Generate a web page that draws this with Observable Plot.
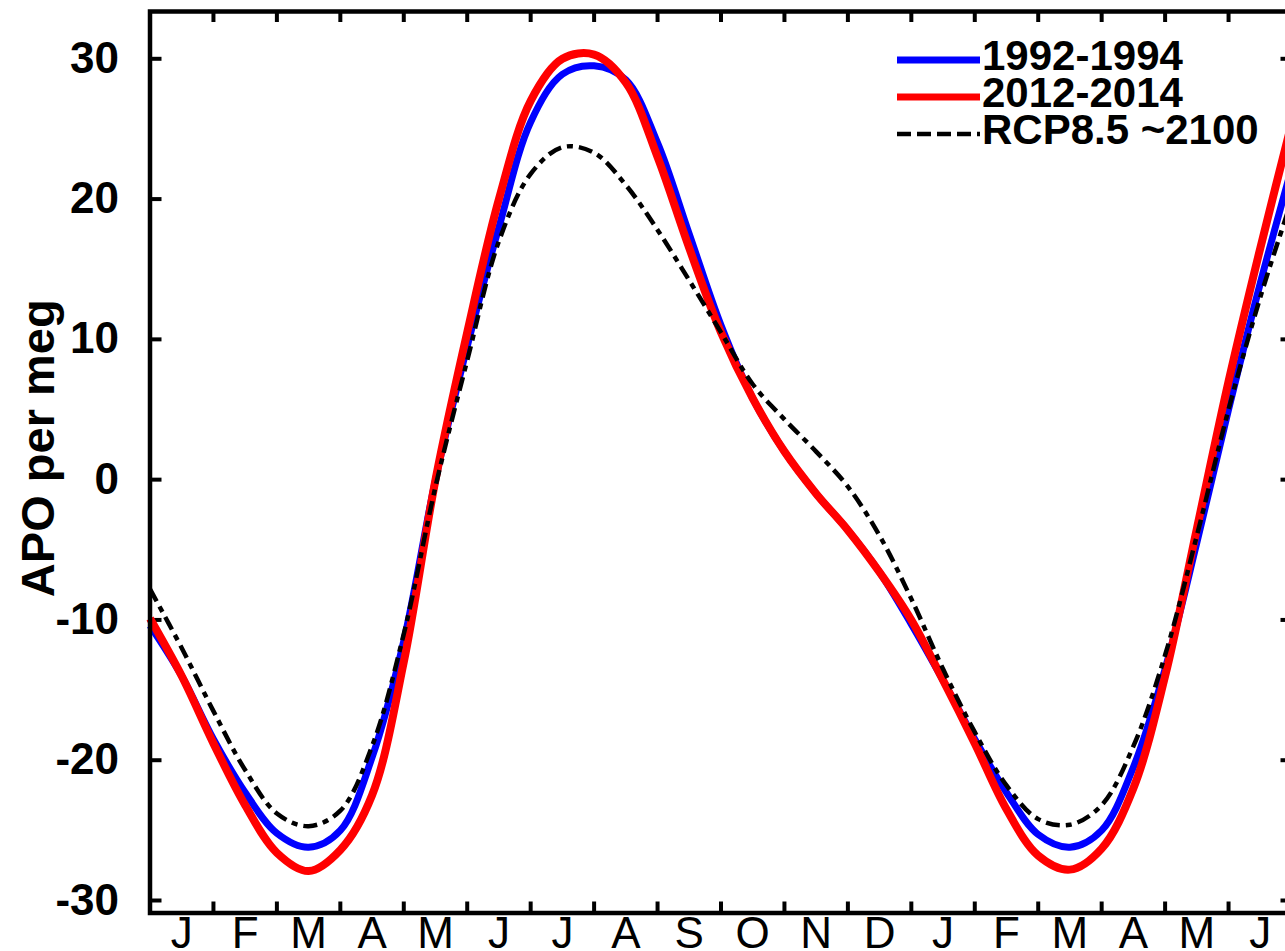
<!DOCTYPE html>
<html>
<head>
<meta charset="utf-8">
<script src="https://cdn.jsdelivr.net/npm/d3@7"></script>
<script src="https://cdn.jsdelivr.net/npm/@observablehq/plot@0.6"></script>
<style>
  html, body { margin: 0; padding: 0; background: #fff; overflow: hidden; }
  #wrap { position: relative; width: 1285px; height: 951px; }
  #legend { position: absolute; left: 0; top: 0; pointer-events: none; }
</style>
</head>
<body>
<div id="wrap"></div>
<script>
// Mean seasonal cycle of APO, Jan through the following June (months since Jan 1)
const months = [0, 0.5, 1, 1.5, 2, 2.5, 3, 3.5, 4, 4.5, 5, 5.5, 6, 6.5, 7, 7.5, 8, 8.5, 9,
  9.5, 10, 10.5, 11, 11.5, 12, 12.5, 13, 13.5, 14, 14.5, 15, 15.5, 16, 16.5, 17, 17.5, 18];

const apo1992 = [-10.4, -14.0, -18.5, -22.3, -25.2, -26.2, -25.0, -19.8, -11.5, 0.0, 9.5, 18.0,
  25.5, 28.9, 29.5, 28.5, 24.0, 17.5, 11.0, 5.8, 2.0, -1.0, -3.6, -6.6, -10.3, -14.3, -18.5,
  -22.3, -25.3, -26.2, -25.0, -20.5, -13.5, -4.5, 5.0, 14.0, 22.3];

const apo2012 = [-9.9, -14.0, -18.8, -23.2, -26.6, -27.9, -26.4, -22.5, -13.0, 0.0, 10.5, 20.0,
  27.0, 30.0, 30.3, 28.3, 23.0, 16.5, 10.5, 5.8, 2.0, -1.0, -3.6, -6.6, -10.0, -14.3, -18.8,
  -23.5, -26.8, -27.8, -26.3, -22.0, -14.0, -3.5, 7.0, 16.5, 25.5];

const apoRcp85 = [-7.8, -12.0, -16.5, -20.7, -23.8, -24.7, -23.6, -19.0, -11.0, -0.5, 8.5, 17.0,
  21.8, 23.7, 23.3, 21.0, 17.8, 14.2, 10.5, 6.8, 4.3, 2.0, -0.5, -4.0, -8.5, -13.5, -18.0,
  -21.8, -24.2, -24.6, -23.2, -19.0, -12.5, -4.0, 5.0, 13.0, 20.0];

const seriesNames = ["1992-1994", "2012-2014", "RCP8.5 ~2100"];
const seriesColors = ["#0000ff", "#ff0000", "#000000"];
const seriesWidths = [7, 8, 4.5];
const seriesDash = [null, null, "14,6,6,6"];

const monthLabels = ["J", "F", "M", "A", "M", "J", "J", "A", "S", "O", "N", "D", "J", "F", "M", "A", "M", "J"];
const yTicks = [-30, -20, -10, 0, 10, 20, 30];
const yTitle = "APO per meg";

const FONT = "'Liberation Sans', Arial, Helvetica, sans-serif";

const seriesValues = [apo1992, apo2012, apoRcp85];
const table = seriesValues.map((vals, s) => months.map((m, i) => ({month: m, value: vals[i], series: seriesNames[s]})));

// month boundaries carry the ticks, month centres carry the letters
const monthEdges = d3.range(1, monthLabels.length);
const monthMids = monthLabels.map((_, i) => i + 0.5);

const W = 1285, H = 951;
const chart = Plot.plot({
  width: W,
  height: H,
  marginLeft: 149.5,
  marginRight: -6.5,
  marginTop: 11,
  marginBottom: 38.5,
  style: {fontFamily: FONT, background: "#fff", color: "#000", overflow: "hidden"},
  x: {type: "linear", domain: [0, monthLabels.length], range: [149.5, 1291.5]},
  y: {type: "linear", domain: [-30, 30], range: [900, 58.3]},
  marks: [
    Plot.axisY(yTicks, {anchor: "left", tickSize: -12, tickPadding: 43, strokeWidth: 4,
      fontSize: 44, fontWeight: "bold", tickFormat: d => String(d), label: null}),
    Plot.axisY(yTicks, {anchor: "right", tickSize: -12, tickFormat: () => "", strokeWidth: 4, label: null}),
    Plot.axisX(monthEdges, {anchor: "bottom", tickSize: -11, tickFormat: () => "", strokeWidth: 4, label: null}),
    Plot.axisX(monthEdges, {anchor: "top", tickSize: -10, tickFormat: () => "", strokeWidth: 4, label: null}),
    Plot.axisX(monthMids, {anchor: "bottom", tickSize: 0, tickPadding: 4, fontSize: 44,
      tickFormat: d => monthLabels[Math.floor(d)], label: null}),
    ...table.map((rows, s) => Plot.line(rows, {
      x: "month", y: "value", curve: "catmull-rom",
      stroke: seriesColors[s], strokeWidth: seriesWidths[s],
      strokeDasharray: seriesDash[s], strokeLinecap: "butt"
    })),
    Plot.frame({stroke: "#000", strokeWidth: 4.5}),
    Plot.text([yTitle], {frameAnchor: "left", rotate: -90, dx: -96, dy: -14,
      lineAnchor: "bottom", textAnchor: "middle", fontSize: 47, fontWeight: "bold", fill: "#000"})
  ]
});

const wrap = document.getElementById("wrap");
wrap.appendChild(chart);

// In-plot legend, top right
const legend = d3.select(wrap).append("svg")
  .attr("id", "legend").attr("width", W).attr("height", H);
const row = legend.selectAll("g").data(seriesNames).join("g")
  .attr("transform", (d, i) => `translate(897,${60 + i * 37})`);
row.append("line")
  .attr("x1", 0).attr("x2", 83).attr("y1", 0).attr("y2", 0)
  .attr("stroke", (d, i) => seriesColors[i])
  .attr("stroke-width", (d, i) => i === 2 ? 4.5 : 7)
  .attr("stroke-dasharray", (d, i) => i === 2 ? "14,6" : null);
row.append("text")
  .attr("x", 85).attr("y", 10)
  .attr("font-family", FONT).attr("font-weight", "bold").attr("font-size", 42)
  .attr("fill", "#000")
  .text(d => d);
</script>
</body>
</html>
